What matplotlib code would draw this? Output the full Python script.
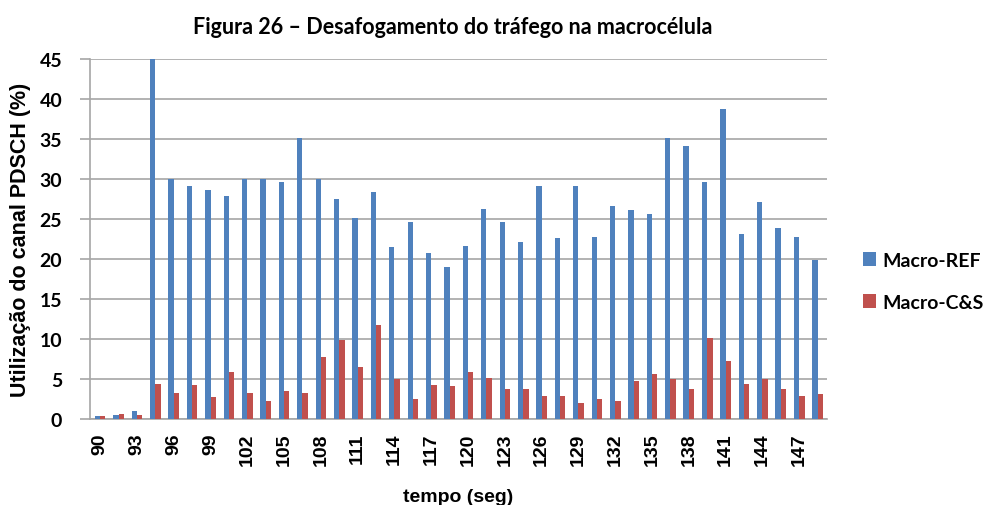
import matplotlib
matplotlib.use("Agg")
import matplotlib.pyplot as plt
import numpy as np

# Data
times = [90 + 1.5 * i for i in range(40)]
tick_labels = [str(int(t)) if i % 2 == 0 else "" for i, t in enumerate(times)]
macro_ref = [0.4, 0.5, 1.0, 45.0, 30.0, 29.1, 28.6, 27.9, 30.0, 30.0,
             29.6, 35.2, 30.0, 27.5, 25.1, 28.4, 21.5, 24.6, 20.7, 19.0,
             21.6, 26.3, 24.6, 22.1, 29.1, 22.6, 29.1, 22.8, 26.7, 26.1,
             25.7, 35.1, 34.2, 29.6, 38.8, 23.1, 27.2, 23.9, 22.8, 19.9]
macro_cs = [0.4, 0.6, 0.5, 4.4, 3.3, 4.2, 2.8, 5.9, 3.3, 2.2,
            3.5, 3.3, 7.7, 9.9, 6.5, 11.7, 5.0, 2.5, 4.2, 4.1,
            5.9, 5.1, 3.8, 3.7, 2.9, 2.9, 2.0, 2.5, 2.2, 4.7,
            5.6, 5.0, 3.8, 10.1, 7.3, 4.4, 5.0, 3.7, 2.9, 3.1]

series_names = ["Macro-REF", "Macro-C&S"]
colors = ["#4F81BD", "#C0504D"]

fig = plt.figure(figsize=(9.89, 5.06), dpi=100)
ax = fig.add_axes([0.091, 0.170, 0.745, 0.711])

x = np.arange(len(times))
w = 0.29
ax.bar(x - w / 2, macro_ref, width=w, color=colors[0], label=series_names[0], zorder=3)
ax.bar(x + w / 2, macro_cs, width=w, color=colors[1], label=series_names[1], zorder=3)

ax.set_xlim(-0.55, 39.5)
ax.set_ylim(0, 45)
ax.set_yticks(np.arange(0, 46, 5))
ax.yaxis.grid(True, color="#A6A6A6", linewidth=1.2, zorder=0)
ax.set_axisbelow(True)

for s in ["top", "right"]:
    ax.spines[s].set_visible(False)
ax.spines["left"].set_color("#A6A6A6")
ax.spines["left"].set_linewidth(1.2)
ax.spines["bottom"].set_color("#A6A6A6")
ax.spines["bottom"].set_linewidth(1.2)

ax.set_xticks(x)
ax.set_xticklabels(tick_labels, rotation=90, fontsize=14, fontweight="bold",
                   family="Liberation Sans")
ax.tick_params(axis="x", length=0, pad=10)
ax.tick_params(axis="y", length=7, color="#A6A6A6", width=1.2, pad=13)
for lab in ax.get_yticklabels():
    lab.set_family("Lato")
    lab.set_fontweight("bold")
    lab.set_fontsize(14)

ax.set_ylabel("Utilização do canal PDSCH (%)", fontsize=15.5, fontweight="bold",
              family="Liberation Sans", labelpad=6)
ax.set_xlabel("tempo (seg)", fontsize=14, fontweight="bold",
              family="Liberation Sans", labelpad=16)

fig.text(0.458, 0.945, "Figura 26 – Desafogamento do tráfego na macrocélula",
         ha="center", va="center", fontsize=15.5, fontweight="bold", family="Lato")

leg = ax.legend(loc="center left", bbox_to_anchor=(1.025, 0.383), frameon=False,
                prop={"family": "Lato", "weight": "bold", "size": 14},
                handlelength=0.7, handleheight=0.7, handletextpad=0.3,
                labelspacing=1.3)

fig.savefig("out.png", dpi=100)
